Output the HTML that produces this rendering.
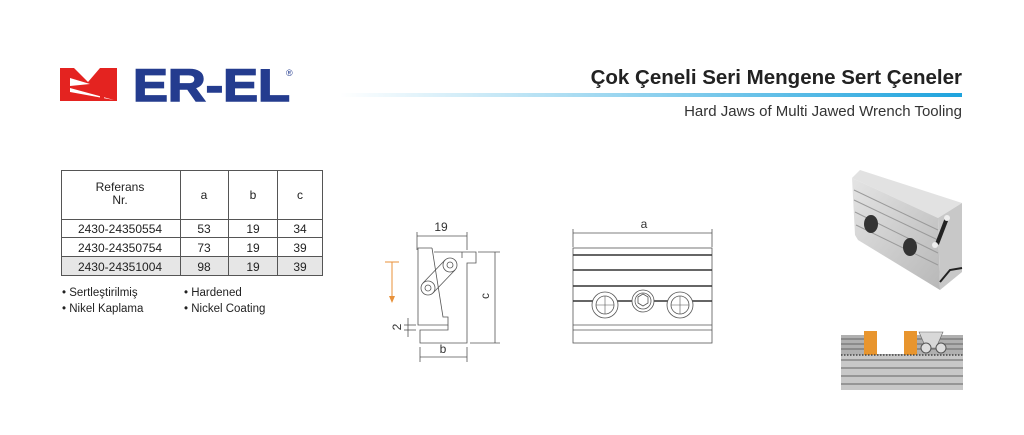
<!DOCTYPE html>
<html><head><meta charset="utf-8"><style>
html,body{margin:0;padding:0;background:#fff}
body{width:1024px;height:435px;position:relative;overflow:hidden;font-family:"Liberation Sans",sans-serif}
svg{position:absolute;left:0;top:0}
.t{position:absolute;right:62px;white-space:nowrap;color:#222}
</style></head><body>
<svg width="1024" height="435" viewBox="0 0 1024 435" xmlns="http://www.w3.org/2000/svg" font-family="Liberation Sans, sans-serif">
<defs>
<linearGradient id="bl" x1="0" x2="1"><stop offset="0" stop-color="#fff"/><stop offset="1" stop-color="#1ea3dd"/></linearGradient>
<linearGradient id="mt" x1="0" x2="1" y1="0" y2="1"><stop offset="0" stop-color="#e4e4e4"/><stop offset="1" stop-color="#b8b8b8"/></linearGradient>
</defs>
<!-- logo -->
<rect x="60" y="68" width="57" height="33" fill="#e42320"/>
<polygon points="74,68 100,68 88,82" fill="#fff"/>
<polygon points="70,78 90,84 70,86" fill="#fff"/>
<polygon points="70,88 114,100 70,92" fill="#fff"/>
<polygon points="100,68 104,68 104,101 100,101" fill="#e42320"/>
<text x="133" y="101" font-size="45" font-weight="bold" fill="#243c8f" stroke="#243c8f" stroke-width="1.5" textLength="157" lengthAdjust="spacingAndGlyphs">ER-EL</text>
<text x="286" y="76" font-size="9" fill="#243c8f">®</text>
<rect x="340" y="93" width="622" height="4" fill="url(#bl)"/>
<!-- table -->
<rect x="61" y="256" width="262" height="20" fill="#e6e6e6"/>
<g stroke="#555" stroke-width="1" fill="none">
<rect x="61.5" y="170.5" width="261" height="105"/>
<line x1="61" y1="219.5" x2="323" y2="219.5"/>
<line x1="61" y1="237.5" x2="323" y2="237.5"/>
<line x1="61" y1="256.5" x2="323" y2="256.5"/>
<line x1="180.5" y1="170" x2="180.5" y2="276"/>
<line x1="228.5" y1="170" x2="228.5" y2="276"/>
<line x1="277.5" y1="170" x2="277.5" y2="276"/>
</g>
<g font-size="12" fill="#222" text-anchor="middle">
<text x="120" y="191">Referans</text><text x="120" y="204">Nr.</text>
<text x="204" y="199">a</text><text x="253" y="199">b</text><text x="300" y="199">c</text>
<text x="120" y="233">2430-24350554</text><text x="204" y="233">53</text><text x="253" y="233">19</text><text x="300" y="233">34</text>
<text x="120" y="252">2430-24350754</text><text x="204" y="252">73</text><text x="253" y="252">19</text><text x="300" y="252">39</text>
<text x="120" y="271">2430-24351004</text><text x="204" y="271">98</text><text x="253" y="271">19</text><text x="300" y="271">39</text>
</g>
<g font-size="11.5" fill="#222">
<text x="62" y="296">• Sertleştirilmiş</text><text x="62" y="312">• Nikel Kaplama</text>
<text x="184" y="296">• Hardened</text><text x="184" y="312">• Nickel Coating</text>
</g>
<!-- side view -->
<g stroke="#555" stroke-width="0.8" fill="none">
<line x1="417" y1="236" x2="467" y2="236"/><line x1="417" y1="232" x2="417" y2="250"/><line x1="467" y1="232" x2="467" y2="250"/>
<polyline points="432,248 418,248 418,325 448,325 448,317 443,317 432,248"/>
<polyline points="434,252 476,252 476,263 467,263 467,343 420,343 420,330 448,330 448,325"/>
<line x1="462" y1="252" x2="462" y2="258"/>
<circle cx="450" cy="265" r="7"/><circle cx="450" cy="265" r="3"/>
<circle cx="428" cy="288" r="7"/><circle cx="428" cy="288" r="3"/>
<line x1="445" y1="260" x2="423" y2="283"/><line x1="455" y1="270" x2="433" y2="293"/>
<line x1="495" y1="252" x2="495" y2="343"/><line x1="478" y1="252" x2="500" y2="252"/><line x1="470" y1="343" x2="500" y2="343"/>
<line x1="420" y1="347" x2="420" y2="362"/><line x1="467" y1="347" x2="467" y2="362"/><line x1="420" y1="357" x2="467" y2="357"/>
<line x1="404" y1="325" x2="416" y2="325"/><line x1="404" y1="330" x2="416" y2="330"/><line x1="408" y1="318" x2="408" y2="337"/>
</g>
<g stroke="#e8913a" stroke-width="1" fill="none"><line x1="385" y1="262" x2="399" y2="262"/><line x1="392" y1="262" x2="392" y2="300"/></g>
<polygon points="389,296 395,296 392,303" fill="#e8913a"/>
<g font-size="12" fill="#333" text-anchor="middle">
<text x="441" y="231">19</text><text x="443" y="353">b</text>
<text transform="translate(489,296) rotate(-90)">c</text>
<text transform="translate(401,327) rotate(-90)">2</text>
<text x="644" y="228">a</text>
</g>
<!-- front view -->
<g stroke="#555" fill="none">
<g stroke-width="0.8"><line x1="573" y1="233" x2="712" y2="233"/><line x1="573" y1="229" x2="573" y2="247"/><line x1="712" y1="229" x2="712" y2="247"/>
<rect x="573" y="248" width="139" height="95"/><line x1="573" y1="325" x2="712" y2="325"/><line x1="573" y1="330" x2="712" y2="330"/></g>
<g stroke-width="1.6" stroke="#333"><line x1="573" y1="255" x2="712" y2="255"/><line x1="573" y1="270" x2="712" y2="270"/><line x1="573" y1="286" x2="712" y2="286"/><line x1="573" y1="301" x2="712" y2="301"/></g>
<g stroke-width="0.8" fill="#fff">
<circle cx="605" cy="305" r="13"/><circle cx="605" cy="305" r="9"/>
<circle cx="680" cy="305" r="13"/><circle cx="680" cy="305" r="9"/>
<circle cx="643" cy="301" r="11"/><circle cx="643" cy="301" r="8"/>
<polygon points="638,297 643,294 648,297 648,303 643,306 638,303"/>
</g>
<g stroke-width="0.6"><line x1="596" y1="305" x2="614" y2="305"/><line x1="605" y1="296" x2="605" y2="314"/><line x1="671" y1="305" x2="689" y2="305"/><line x1="680" y1="296" x2="680" y2="314"/></g>
</g>
<!-- photo 1 -->
<polygon points="852,178 860,170 962,203 938,218" fill="#e2e2e2"/>
<polygon points="852,178 938,218 940,290 858,240 855,235" fill="url(#mt)"/>
<polygon points="938,218 962,203 962,272 940,290" fill="#c8c8c8"/>
<g stroke="#9a9a9a" stroke-width="1"><line x1="854" y1="190" x2="938" y2="230"/><line x1="854" y1="200" x2="938" y2="240"/><line x1="855" y1="212" x2="938" y2="253"/><line x1="856" y1="225" x2="938" y2="265"/></g>
<ellipse cx="871" cy="224" rx="7" ry="9" fill="#333"/><ellipse cx="910" cy="247" rx="7" ry="9" fill="#333"/>
<line x1="947" y1="218" x2="937" y2="244" stroke="#222" stroke-width="4"/>
<circle cx="947" cy="218" r="3" fill="#eee"/><circle cx="935" cy="245" r="3" fill="#eee"/>
<polyline points="940,282 950,270 962,268" stroke="#222" stroke-width="2" fill="none"/>
<!-- photo 2 -->
<rect x="841" y="335" width="122" height="20" fill="#b0b0b0"/>
<g stroke="#666" stroke-width="1"><line x1="841" y1="339" x2="963" y2="339"/><line x1="841" y1="344" x2="963" y2="344"/><line x1="841" y1="349" x2="963" y2="349"/></g>
<rect x="841" y="355" width="122" height="35" fill="#c8c8c8"/>
<g stroke="#777" stroke-width="1.2"><line x1="841" y1="360" x2="963" y2="360"/><line x1="841" y1="368" x2="963" y2="368"/><line x1="841" y1="376" x2="963" y2="376"/><line x1="841" y1="384" x2="963" y2="384"/></g>
<rect x="877" y="332" width="28" height="22" fill="#fff"/>
<rect x="864" y="331" width="13" height="24" fill="#e8952e"/>
<rect x="904" y="331" width="13" height="24" fill="#e8952e"/>
<polygon points="919,332 943,332 936,348 926,348" fill="#d8d8d8" stroke="#666" stroke-width="0.6"/>
<circle cx="926" cy="348" r="5" fill="#ddd" stroke="#555"/><circle cx="941" cy="348" r="5" fill="#ddd" stroke="#555"/>
<line x1="841" y1="355" x2="963" y2="355" stroke="#444" stroke-width="1.5" stroke-dasharray="1.5,1.5"/>
</svg>
<div class="t" style="top:66px;font-size:20.5px;font-weight:bold;">Çok Çeneli Seri Mengene Sert Çeneler</div>
<div class="t" style="top:103px;font-size:15px;color:#333;">Hard Jaws of Multi Jawed Wrench Tooling</div>
</body></html>
